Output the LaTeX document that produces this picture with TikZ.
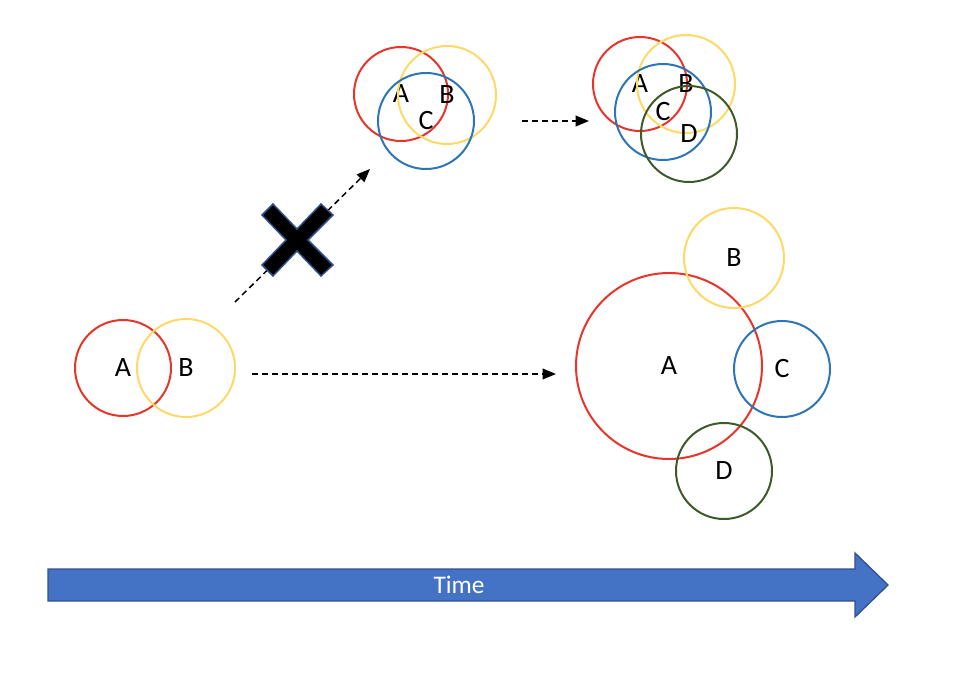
\documentclass[tikz,border=0pt]{standalone}
\usepackage{fontspec}
\setmainfont{Carlito}
\usetikzlibrary{arrows.meta}
\definecolor{vred}{HTML}{E8352B}
\definecolor{vyellow}{HTML}{FFD966}
\definecolor{vblue}{HTML}{2E75B6}
\definecolor{vgreen}{HTML}{3F5A2A}
\definecolor{timefill}{HTML}{4472C4}
\definecolor{timeedge}{HTML}{2F528F}

\begin{document}
\begin{tikzpicture}[x=0.75pt,y=0.75pt,yscale=-1,xscale=1,
    venn/.style={circle, draw=#1, line width=1.5pt, inner sep=0pt, font=\fontsize{21}{25}\selectfont},
    vr/.style={minimum size=#1*1.5pt},
    flow/.style={dash pattern=on 4.5pt off 3pt, line width=1.1pt, -{Triangle[length=10pt,width=8pt]}}]
    \useasboundingbox (0,0) rectangle (970,698);
    
    %Shape: Circles, start [id:left]
    \node[venn=vred, vr=48] (A1) at (123,368) {A};
    \node[venn=vyellow, vr=49] (B1) at (186,368) {B};
    
    %Shape: Circles, three sets [id:top]
    \node[venn=vred, vr=47] (A2) at (401,94) {A};
    \node[venn=vyellow, vr=49] (B2) at (447,95) {B};
    \node[venn=vblue, vr=48] (C2) at (426,121) {C};
    
    %Shape: Circles, four sets [id:topright]
    \node[venn=vred, vr=47] (A3) at (640,84) {A};
    \node[venn=vyellow, vr=49] (B3) at (686,84) {B};
    \node[venn=vblue, vr=48] (C3) at (663,112) {C};
    \node[venn=vgreen, vr=48] (D3) at (689,134) {D};
    
    %Shape: Circles, grown [id:right]
    \node[venn=vred, vr=93] (A4) at (669,366) {A};
    \node[venn=vyellow, vr=50] (B4) at (734,258) {B};
    \node[venn=vblue, vr=48] (C4) at (782,369) {C};
    \node[venn=vgreen, vr=48] (D4) at (724,471) {D};
    
    %Straight Lines: dashed arrows
    \coordinate (s1) at (252,374); \coordinate (e1) at (556,374);
    \coordinate (s2) at (235,302); \coordinate (e2) at (370,169);
    \coordinate (s3) at (522,121); \coordinate (e3) at (589,121);
    \draw[flow] (s1) -- (e1);
    \draw[flow] (s2) -- (e2);
    \draw[flow] (s3) -- (e3);
    
    %Shape: Cross
    \draw[fill=black, draw=timeedge, line width=1.1pt] (262,215) -- (273,204) -- (297,229) -- (321,204) -- (333,215) -- (308,240) -- (333,265) -- (321,276) -- (297,251) -- (273,276) -- (262,265) -- (286,240) -- cycle;
    
    %Shape: Right Arrow [id:time]
    \draw[fill=timefill, draw=timeedge, line width=1pt] (48,569) -- (855,569) -- (855,553) -- (888,585) -- (855,617) -- (855,601) -- (48,601) -- cycle;
    \node[text=white, font=\fontsize{19}{23}\selectfont] (time) at (459,585) {Time};
    
\end{tikzpicture}
\end{document}
